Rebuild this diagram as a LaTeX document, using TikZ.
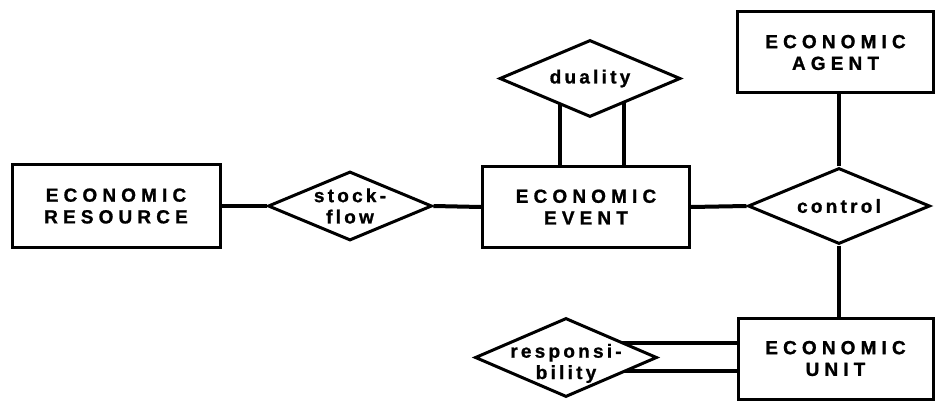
\documentclass[tikz,border=0pt]{standalone}
\usepackage{fontspec}
\setmainfont{Liberation Sans}
\newfontfamily\entfont{Liberation Sans Bold}[LetterSpace=27,FakeBold=1]
\newfontfamily\relfont{Liberation Sans Bold}[LetterSpace=17,FakeBold=1]
\usetikzlibrary{shapes.geometric,backgrounds,calc}
\begin{document}
\begin{tikzpicture}[x=1pt,y=-1pt,
  entity/.style={draw,line width=3pt,fill=white,rectangle,inner sep=0pt,
    align=center,font=\entfont\fontsize{19}{21.7}\selectfont},
  relation/.style={draw,line width=3pt,fill=white,diamond,inner sep=-25pt,
    align=center,font=\relfont\fontsize{19}{21.3}\selectfont},
  link/.style={line width=4pt}]
  \useasboundingbox (0,0) rectangle (935,401);

  % entities
  \node[entity,minimum width=208pt,minimum height=82pt] (res) at (116,206) {ECONOMIC\\RESOURCE};
  \node[entity,minimum width=207pt,minimum height=81pt] (ev) at (586,207) {ECONOMIC\\EVENT};
  \node[entity,minimum width=196pt,minimum height=81pt] (agent) at (835.5,52.5) {ECONOMIC\\AGENT};
  \node[entity,minimum width=195pt,minimum height=81pt] (unit) at (835.5,358.5) {ECONOMIC\\UNIT};

  % relationships
  \node[relation,minimum width=164pt,minimum height=69pt] (sf) at (350,206) {stock-\\flow};
  \node[relation,minimum width=181pt,minimum height=77pt] (dual) at (590,78.5) {duality};
  \node[relation,minimum width=182pt,minimum height=76pt] (ctrl) at (839,206) {control};
  \node[relation,minimum width=182pt,minimum height=79pt,
        text height=43pt,text depth=0pt] (resp) at (566,357.5) {responsi-\\bility};

  % anchor points of the double links
  \coordinate (d1) at ($(dual.center)+(-30,0)$);
  \coordinate (d2) at ($(dual.center)+(34,0)$);
  \coordinate (r1) at ($(resp.center)+(0,-14.5)$);
  \coordinate (r2) at ($(resp.center)+(0,13.5)$);

  % white page and connectors, behind the shapes
  \begin{pgfonlayer}{background}
    \fill[white] (0,0) rectangle (935,401);
    \draw[link] (res.east) -- (sf.west);
    \draw[link] (sf.east) -- (ev.west);
    \draw[link] (ev.east) -- (ctrl.west);
    \draw[link] (d1) -- (d1 |- ev.north);
    \draw[link] (d2) -- (d2 |- ev.north);
    \draw[link] (ctrl.north) -- (ctrl.north |- agent.south);
    \draw[link] (ctrl.south) -- (ctrl.south |- unit.north);
    \draw[link] (r1) -- (r1 -| unit.west);
    \draw[link] (r2) -- (r2 -| unit.west);
  \end{pgfonlayer}
\end{tikzpicture}
\end{document}
